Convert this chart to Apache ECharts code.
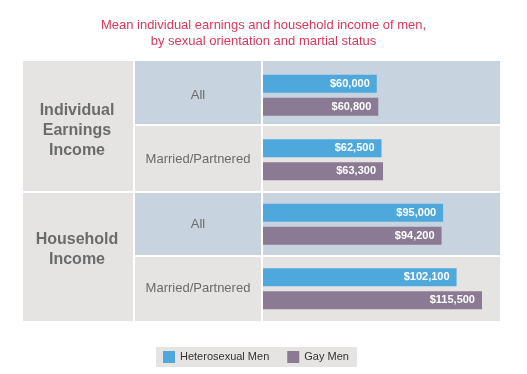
<!DOCTYPE html>
<html>
<head>
<meta charset="utf-8">
<script src="https://cdn.jsdelivr.net/npm/echarts@6/dist/echarts.min.js"></script>
<style>html,body{margin:0;padding:0;background:#fff;}#c{width:527px;height:374px;}</style>
</head>
<body>
<div id="c"></div>
<script>
var titleText = 'Mean individual earnings and household income of men,\nby sexual orientation and martial status';
var categories = ['All', 'Married/Partnered', 'All', 'Married/Partnered'];
var groups = ['Individual\nEarnings\nIncome', 'Household\nIncome'];
var seriesNames = ['Heterosexual Men', 'Gay Men'];
var heteroValues = [60000, 62500, 95000, 102100];
var gayValues = [60800, 63300, 94200, 115500];

var BLUE_BG = '#c8d3e0', GRAY_BG = '#e5e4e3';
var FONT = '"Liberation Sans", Arial, Helvetica, sans-serif';

// table chrome (layout only)
var rowBands = [[61, 124], [126, 191], [193, 255], [257, 321]];
var rowColors = [BLUE_BG, GRAY_BG, BLUE_BG, GRAY_BG];
var graphics = [];
rowBands.forEach(function (b, i) {
  graphics.push({ type: 'rect', z: -10, shape: { x: 135, y: b[0], width: 126, height: b[1] - b[0] }, style: { fill: rowColors[i] } });
  graphics.push({ type: 'rect', z: -10, shape: { x: 263, y: b[0], width: 237, height: b[1] - b[0] }, style: { fill: rowColors[i] } });
});
var groupBands = [[61, 191, 131], [193, 321, 250]];
groupBands.forEach(function (g, i) {
  graphics.push({ type: 'rect', z: -10, shape: { x: 23, y: g[0], width: 110, height: g[1] - g[0] }, style: { fill: GRAY_BG } });
  graphics.push({ type: 'text', z: 5, x: 77, y: g[2], style: { text: groups[i], fill: '#6b6b6b', font: 'bold 16px ' + FONT, align: 'center', verticalAlign: 'middle', lineHeight: 20 } });
});

function money(v) { return '$' + v.toLocaleString('en-US'); }

var chart = echarts.init(document.getElementById('c'), null, { renderer: 'canvas' });
chart.setOption({
  animation: false,
  backgroundColor: '#fff',
  textStyle: { fontFamily: FONT },
  title: {
    text: titleText, left: 'center', top: 12,
    textStyle: { color: '#d9385e', fontSize: 13, fontWeight: 'normal', lineHeight: 16, fontFamily: FONT, align: 'center' }
  },
  graphic: graphics,
  legend: {
    data: seriesNames, left: 156, top: 347, orient: 'horizontal',
    backgroundColor: GRAY_BG, padding: [4, 8, 4, 7],
    icon: 'rect', itemWidth: 12, itemHeight: 12, itemGap: 18,
    textStyle: { fontSize: 11, color: '#333', fontFamily: FONT }
  },
  grid: { left: 263, width: 237, top: 63, height: 258 },
  xAxis: { type: 'value', min: 0, max: 125000, show: false },
  yAxis: {
    type: 'category', data: categories, inverse: true,
    axisLine: { show: false }, axisTick: { show: false }, splitLine: { show: false },
    axisLabel: { margin: 65, align: 'center', fontSize: 13, color: '#6b6b6b', fontFamily: FONT }
  },
  series: [
    {
      name: seriesNames[0], type: 'bar', data: heteroValues, barWidth: 18, barGap: '28%',
      itemStyle: { color: '#4ea8dc' },
      label: { show: true, position: 'insideRight', distance: 7, color: '#fff', fontWeight: 'bold', fontSize: 11, fontFamily: FONT, formatter: function (p) { return money(p.value); } }
    },
    {
      name: seriesNames[1], type: 'bar', data: gayValues, barWidth: 18, barGap: '28%',
      itemStyle: { color: '#8a7a94' },
      label: { show: true, position: 'insideRight', distance: 7, color: '#fff', fontWeight: 'bold', fontSize: 11, fontFamily: FONT, formatter: function (p) { return money(p.value); } }
    }
  ]
});
</script>
</body>
</html>
